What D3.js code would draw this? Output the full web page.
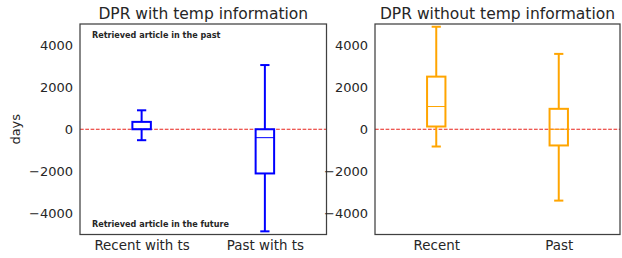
<!DOCTYPE html>
<html>
<head>
<meta charset="utf-8">
<script src="https://cdn.jsdelivr.net/npm/d3@7"></script>
<style>
  body { margin: 0; background: #fff; }
  text { font-family: "DejaVu Sans", sans-serif; fill: #262626; }
</style>
</head>
<body>
<div id="chart"></div>
<script>
// box stats: [whiskerLow, q1, median, q3, whiskerHigh]
const leftCategories = ['Recent with ts', 'Past with ts'];
const leftStats = [
  [-520, 0, 0, 350, 900],
  [-4850, -2100, -400, 0, 3050]
];
const rightCategories = ['Recent', 'Past'];
const rightStats = [
  [-820, 130, 1080, 2500, 4870],
  [-3390, -770, 0, 970, 3580]
];
const yTicks = [-4000, -2000, 0, 2000, 4000];
const yDomain = [-5000, 5000];

const W = 622, H = 258;
const svg = d3.select('#chart').append('svg').attr('width', W).attr('height', H);

function panel(x0, x1, title, cats, stats, color, withText, withYLabel) {
  const top = 24, bottom = 234.5;
  const x = d3.scaleLinear().domain([0.5, 2.5]).range([x0, x1]);
  const y = d3.scaleLinear().domain(yDomain).range([bottom, top]);
  const g = svg.append('g');

  // zero line
  g.append('line')
    .attr('x1', x0).attr('x2', x1)
    .attr('y1', y(0)).attr('y2', y(0))
    .attr('stroke', '#e8221b').attr('stroke-width', 1)
    .attr('stroke-dasharray', '3.7,1.6');

  const bw = x(1.075) - x(0.925);
  stats.forEach((s, i) => {
    const cx = x(i + 1);
    const [lo, q1, med, q3, hi] = s;
    const bg = g.append('g').attr('stroke', color).attr('fill', 'none');
    bg.append('line').attr('x1', cx).attr('x2', cx).attr('y1', y(q3)).attr('y2', y(hi)).attr('stroke-width', 2);
    bg.append('line').attr('x1', cx).attr('x2', cx).attr('y1', y(q1)).attr('y2', y(lo)).attr('stroke-width', 2);
    bg.append('line').attr('x1', cx - bw / 4).attr('x2', cx + bw / 4).attr('y1', y(hi)).attr('y2', y(hi)).attr('stroke-width', 2);
    bg.append('line').attr('x1', cx - bw / 4).attr('x2', cx + bw / 4).attr('y1', y(lo)).attr('y2', y(lo)).attr('stroke-width', 2);
    bg.append('rect').attr('x', cx - bw / 2).attr('width', bw)
      .attr('y', y(q3)).attr('height', y(q1) - y(q3)).attr('stroke-width', 2);
    bg.append('line').attr('x1', cx - bw / 2).attr('x2', cx + bw / 2).attr('y1', y(med)).attr('y2', y(med)).attr('stroke-width', 1);
  });

  // axes
  const ya = g.append('g').attr('transform', `translate(${x0},0)`)
    .call(d3.axisLeft(y).tickValues(yTicks).tickSize(0).tickPadding(7).tickFormat(d => d < 0 ? '\u2212' + Math.abs(d) : d));
  ya.select('.domain').remove();
  ya.selectAll('text').style('font-size', '13px').attr('fill', '#262626');

  const xa = g.append('g').attr('transform', `translate(0,${bottom})`)
    .call(d3.axisBottom(x).tickValues([1, 2]).tickSize(0).tickPadding(6).tickFormat((d, i) => cats[i]));
  xa.select('.domain').remove();
  xa.selectAll('text').style('font-size', '13.4px').attr('fill', '#262626');

  g.append('rect').attr('x', x0).attr('y', top).attr('width', x1 - x0).attr('height', bottom - top)
    .attr('fill', 'none').attr('stroke', '#404040').attr('stroke-width', 1.25);

  g.append('text').attr('x', (x0 + x1) / 2).attr('y', 19).attr('text-anchor', 'middle')
    .style('font-size', '15.5px').text(title);

  if (withText) {
    g.append('text').attr('x', x0 + 12).attr('y', 38).style('font-size', '8.1px').style('font-weight', 'bold')
      .text('Retrieved article in the past');
    g.append('text').attr('x', x0 + 12).attr('y', 227).style('font-size', '8.1px').style('font-weight', 'bold')
      .text('Retrieved article in the future');
  }
  if (withYLabel) {
    g.append('text').attr('transform', `translate(20,${y(0)}) rotate(-90)`).attr('text-anchor', 'middle')
      .style('font-size', '13px').text('days');
  }
}

panel(80, 326.5, 'DPR with temp information', leftCategories, leftStats, '#0000ff', true, true);
panel(375, 620, 'DPR without temp information', rightCategories, rightStats, '#ffa500', false, false);
</script>
</body>
</html>
